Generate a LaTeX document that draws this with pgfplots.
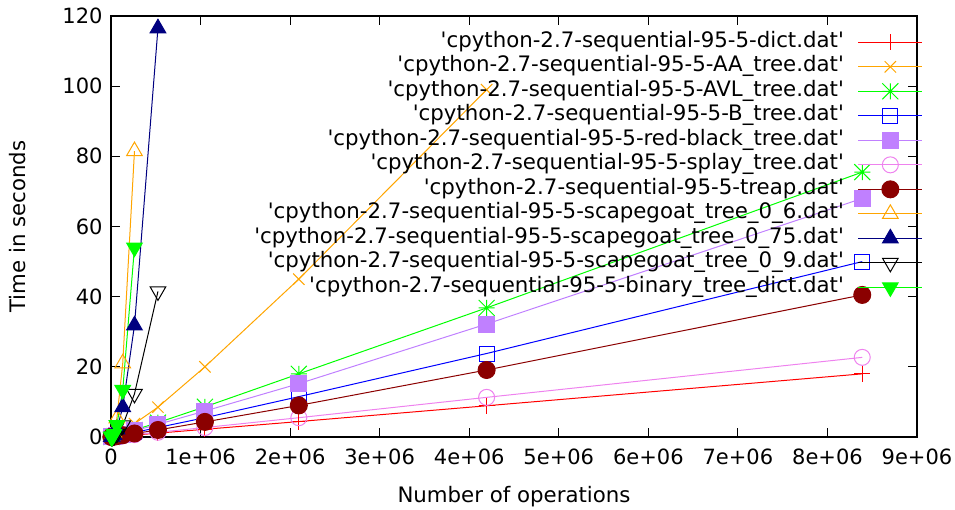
\documentclass[border=0pt]{standalone}
\usepackage{fontspec}
\setmainfont{DejaVu Sans}
\usepackage{pgfplots}
\pgfplotsset{compat=1.18}

\definecolor{cDict}{HTML}{FF0000}
\definecolor{cAA}{HTML}{FFA500}
\definecolor{cAVL}{HTML}{00FF00}
\definecolor{cB}{HTML}{0000FF}
\definecolor{cRB}{HTML}{C080FF}
\definecolor{cSplay}{HTML}{EE82EE}
\definecolor{cTreap}{HTML}{8B0000}
\definecolor{cSGsix}{HTML}{FFA500}
\definecolor{cSGsev}{HTML}{000080}
\definecolor{cSGnine}{HTML}{000000}
\definecolor{cBin}{HTML}{00FF00}

% gnuplot style point type 3: plus and cross together
\pgfdeclareplotmark{gpstar}{%
  \pgfpathmoveto{\pgfqpoint{-\pgfplotmarksize}{0pt}}\pgfpathlineto{\pgfqpoint{\pgfplotmarksize}{0pt}}%
  \pgfpathmoveto{\pgfqpoint{0pt}{-\pgfplotmarksize}}\pgfpathlineto{\pgfqpoint{0pt}{\pgfplotmarksize}}%
  \pgfpathmoveto{\pgfqpoint{-\pgfplotmarksize}{-\pgfplotmarksize}}\pgfpathlineto{\pgfqpoint{\pgfplotmarksize}{\pgfplotmarksize}}%
  \pgfpathmoveto{\pgfqpoint{-\pgfplotmarksize}{\pgfplotmarksize}}\pgfpathlineto{\pgfqpoint{\pgfplotmarksize}{-\pgfplotmarksize}}%
  \pgfusepathqstroke}

\newcommand{\q}{\textquotesingle}
\newcommand{\fn}{cpython-2.7-sequential-95-5-}

\begin{document}
\begin{tikzpicture}
\useasboundingbox (0,0) rectangle (955bp,510bp);
\begin{axis}[
    at={(111bp,73bp)}, anchor=south west,
    width=806bp, height=421bp, scale only axis,
    xmin=0, xmax=9000000, ymin=0, ymax=120,
    xtick={0,1000000,2000000,3000000,4000000,5000000,6000000,7000000,8000000,9000000},
    xticklabels={0,1e+06,2e+06,3e+06,4e+06,5e+06,6e+06,7e+06,8e+06,9e+06},
    scaled x ticks=false,
    ytick={0,20,...,120},
    tick pos=both, tick align=inside,
    major tick length=9bp,
    every tick/.style={black, line width=1bp},
    axis line style={black, line width=1.2bp},
    /pgf/number format/assume math mode=true,
    ticklabel style={font=\fontsize{21bp}{25bp}\selectfont},
    xticklabel style={yshift=-8bp},
    yticklabel style={xshift=-5bp},
    label style={font=\fontsize{21.3bp}{25bp}\selectfont},
    xlabel={Number of operations},
    ylabel={Time in seconds},
    xlabel style={at={(axis description cs:0.5,-0.1425)}, anchor=center},
    ylabel style={at={(axis description cs:-0.1154,0.5)}, anchor=center},
    clip=false,
    every axis plot/.append style={line width=1bp},
    every mark/.append style={solid, line width=1bp},
    legend plot pos=right,
    legend cell align=right,
    legend style={at={(axis description cs:1.0075,0.967)}, anchor=north east,
        draw=none, fill=none, inner sep=0pt, row sep=0pt, column sep=14bp,
        font=\fontsize{21.3bp}{25bp}\selectfont,
        nodes={inner sep=0pt, text height=17bp, text depth=7.5bp}},
    legend image code/.code={
        \draw[mark repeat=2,mark phase=2]
        plot coordinates {(0bp,0bp) (32bp,0bp) (64bp,0bp)};
    },
]
% dict
\addplot[cDict, mark=+, mark size=8bp] coordinates {
(4096,0.01) (8192,0.02) (16384,0.04) (32768,0.07) (65536,0.14) (131072,0.28)
(262144,0.55) (524288,1.1) (1048576,2.2) (2097152,4.4) (4194304,8.9) (8388608,18.0)};
% AA tree
\addplot[cAA, mark=x, mark size=8bp] coordinates {
(4096,0.04) (8192,0.08) (16384,0.17) (32768,0.37) (65536,0.8) (131072,1.7)
(262144,3.8) (524288,8.5) (1048576,20.0) (2097152,45.0) (4194304,99.0)};
% AVL tree
\addplot[cAVL, mark=gpstar, mark size=8bp] coordinates {
(4096,0.027) (8192,0.055) (16384,0.11) (32768,0.23) (65536,0.47) (131072,0.97)
(262144,2.0) (524288,4.1) (1048576,8.6) (2097152,18.0) (4194304,36.8) (8388608,75.5)};
% B tree
\addplot[cB, mark=square, mark size=7.5bp] coordinates {
(4096,0.018) (8192,0.037) (16384,0.075) (32768,0.15) (65536,0.31) (131072,0.64)
(262144,1.3) (524288,2.7) (1048576,5.5) (2097152,11.5) (4194304,23.8) (8388608,50.0)};
% red-black tree
\addplot[cRB, mark=square*, mark size=8bp, mark options={fill=cRB}] coordinates {
(4096,0.025) (8192,0.05) (16384,0.1) (32768,0.2) (65536,0.41) (131072,0.85)
(262144,1.75) (524288,3.6) (1048576,7.4) (2097152,15.2) (4194304,32.2) (8388608,68.0)};
% splay tree
\addplot[cSplay, mark=o, mark size=8bp] coordinates {
(4096,0.01) (8192,0.02) (16384,0.04) (32768,0.08) (65536,0.16) (131072,0.33)
(262144,0.66) (524288,1.35) (1048576,2.7) (2097152,5.5) (4194304,11.3) (8388608,22.7)};
% treap
\addplot[cTreap, mark=*, mark size=8.5bp, mark options={fill=cTreap}] coordinates {
(4096,0.015) (8192,0.03) (16384,0.06) (32768,0.12) (65536,0.24) (131072,0.5)
(262144,1.0) (524288,2.0) (1048576,4.3) (2097152,9.0) (4194304,19.1) (8388608,40.5)};
% scapegoat 0.6
\addplot[cSGsix, mark=triangle, mark size=9bp] coordinates {
(4096,0.02) (8192,0.08) (16384,0.33) (32768,1.3) (65536,5.3) (131072,21.0) (262144,81.5)};
% scapegoat 0.75
\addplot[cSGsev, mark=triangle*, mark size=9bp, mark options={fill=cSGsev}] coordinates {
(4096,0.009) (8192,0.035) (16384,0.14) (32768,0.55) (65536,2.2) (131072,8.5)
(262144,31.8) (524288,116.5)};
% scapegoat 0.9
\addplot[cSGnine, mark=triangle, mark size=9bp, mark options={rotate=180}] coordinates {
(4096,0.004) (8192,0.015) (16384,0.06) (32768,0.23) (65536,0.9) (131072,3.3)
(262144,12.3) (524288,41.5)};
% binary tree dict
\addplot[cBin, mark=triangle*, mark size=9bp, mark options={rotate=180, fill=cBin}] coordinates {
(4096,0.01) (8192,0.05) (16384,0.2) (32768,0.85) (65536,3.4) (131072,13.4) (262144,54.0)};
\legend{
  \q\fn dict.dat\q,
  \q\fn AA\_tree.dat\q,
  \q\fn AVL\_tree.dat\q,
  \q\fn B\_tree.dat\q,
  \q\fn red-black\_tree.dat\q,
  \q\fn splay\_tree.dat\q,
  \q\fn treap.dat\q,
  \q\fn scapegoat\_tree\_0\_6.dat\q,
  \q\fn scapegoat\_tree\_0\_75.dat\q,
  \q\fn scapegoat\_tree\_0\_9.dat\q,
  \q\fn binary\_tree\_dict.dat\q}
\end{axis}
\end{tikzpicture}
\end{document}
